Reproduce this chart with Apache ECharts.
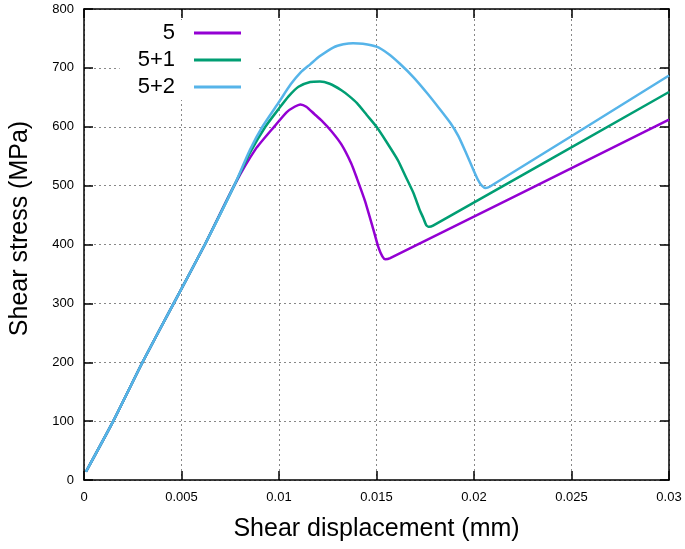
<!DOCTYPE html>
<html>
<head>
<meta charset="utf-8">
<script src="https://cdn.jsdelivr.net/npm/echarts@6/dist/echarts.min.js"></script>
<style>html,body{margin:0;padding:0;background:#fff;}#c{width:685px;height:549px;}</style>
</head>
<body>
<div id="c"></div>
<script>
// ---- data (shear displacement in mm, shear stress in MPa) ----
var seriesNames = ['5', '5+1', '5+2'];
var xTicks = [0, 0.005, 0.01, 0.015, 0.02, 0.025, 0.03];
var yTicks = [0, 100, 200, 300, 400, 500, 600, 700, 800];

var s5x = [0.0001, 0.0015, 0.003, 0.0046, 0.0062, 0.0077, 0.0088, 0.0098, 0.0104, 0.0108, 0.0111, 0.0114, 0.0118, 0.0122, 0.0127, 0.0132, 0.0137, 0.0140, 0.0144, 0.0148, 0.0151, 0.0153, 0.01545, 0.0157, 0.030];
var s5y = [14, 100, 200, 300, 400, 500, 562, 602, 625, 634, 638, 634, 622, 610, 592, 570, 538, 512, 475, 430, 395, 380, 375, 377, 612];

var s51x = [0.0001, 0.0015, 0.003, 0.0046, 0.0062, 0.0077, 0.0085, 0.0093, 0.0100, 0.0105, 0.0110, 0.0116, 0.0121, 0.0126, 0.0132, 0.0136, 0.0140, 0.0145, 0.0150, 0.0155, 0.0161, 0.0165, 0.0169, 0.0172, 0.0174, 0.01755, 0.0177, 0.0179, 0.030];
var s51y = [14, 100, 200, 300, 400, 500, 555, 600, 631, 652, 668, 676, 677, 673, 662, 652, 640, 620, 600, 575, 543, 515, 487, 460, 445, 433, 430, 432, 659];

var s52x = [0.0001, 0.0015, 0.003, 0.0046, 0.0062, 0.0077, 0.0085, 0.00915, 0.0100, 0.0106, 0.0111, 0.0116, 0.0121, 0.0128, 0.0133, 0.0138, 0.0143, 0.0150, 0.0156, 0.0162, 0.0169, 0.0176, 0.0182, 0.0188, 0.0192, 0.0196, 0.0199, 0.0202, 0.0204, 0.0206, 0.0208, 0.030];
var s52y = [14, 100, 200, 300, 400, 500, 560, 600, 642, 672, 692, 706, 720, 735, 740, 742, 741, 736, 724, 707, 684, 657, 632, 606, 584, 555, 532, 510, 500, 496, 498, 687];

function pairs(xs, ys) { return xs.map(function (x, i) { return [x, ys[i]]; }); }

var colors = ['#9400d3', '#009e73', '#56b4e9'];
var font = 'Liberation Sans, Arial, sans-serif';

var chart = echarts.init(document.getElementById('c'), null, {renderer: 'canvas'});

var axisLine = {show: true, onZero: false, lineStyle: {color: '#000', width: 1.5}};
var tick = {show: true, inside: true, length: 9, lineStyle: {color: '#000', width: 1.5}};
var split = {show: true, lineStyle: {color: '#888', width: 1, type: [2, 3]}};

var option = {
  animation: false,
  backgroundColor: '#fff',
  grid: {left: 83, right: 16, top: 9, bottom: 69, containLabel: false},
  xAxis: [{
    type: 'value', min: 0, max: 0.03, interval: 0.005, position: 'bottom',
    axisLine: axisLine, axisTick: tick, splitLine: split,
    axisLabel: {color: '#000', fontSize: 13, fontFamily: font, margin: 11,
      formatter: function (v) { var t = xTicks.filter(function (k) { return Math.abs(k - v) < 1e-9; }); return t.length ? String(t[0]) : ''; }},
    name: 'Shear displacement (mm)', nameLocation: 'middle', nameGap: 37,
    nameTextStyle: {color: '#000', fontSize: 25, fontFamily: font}
  }, {
    type: 'value', min: 0, max: 0.03, interval: 0.005, position: 'top',
    axisLine: axisLine, axisTick: tick, splitLine: {show: false}, axisLabel: {show: false}
  }],
  yAxis: [{
    type: 'value', min: 0, max: 800, interval: 100, position: 'left',
    axisLine: axisLine, axisTick: tick, splitLine: split,
    axisLabel: {color: '#000', fontSize: 13, fontFamily: font, margin: 10,
      formatter: function (v) { return yTicks.indexOf(v) >= 0 ? String(v) : ''; }},
    name: 'Shear stress (MPa)', nameLocation: 'middle', nameGap: 51,
    nameTextStyle: {color: '#000', fontSize: 25, fontFamily: font, padding: [0, 0, 0, 32]}
  }, {
    type: 'value', min: 0, max: 800, interval: 100, position: 'right',
    axisLine: axisLine, axisTick: tick, splitLine: {show: false}, axisLabel: {show: false}
  }],
  legend: {
    data: seriesNames, orient: 'vertical', right: 428, top: 20, align: 'right',
    icon: 'rect', itemWidth: 47, itemHeight: 3, itemGap: 5,
    backgroundColor: '#fff', padding: [2, 16, 2, 18],
    textStyle: {color: '#000', fontSize: 22, lineHeight: 22, fontFamily: font, padding: [0, 14, 0, 0]}
  },
  series: [
    {name: seriesNames[0], type: 'line', data: pairs(s5x, s5y), color: colors[0]},
    {name: seriesNames[1], type: 'line', data: pairs(s51x, s51y), color: colors[1]},
    {name: seriesNames[2], type: 'line', data: pairs(s52x, s52y), color: colors[2]}
  ].map(function (s) {
    s.showSymbol = false; s.symbol = 'none'; s.smooth = 0.2;
    s.lineStyle = {width: 2.5, color: s.color}; s.itemStyle = {color: s.color};
    return s;
  })
};
chart.setOption(option);
</script>
</body>
</html>
